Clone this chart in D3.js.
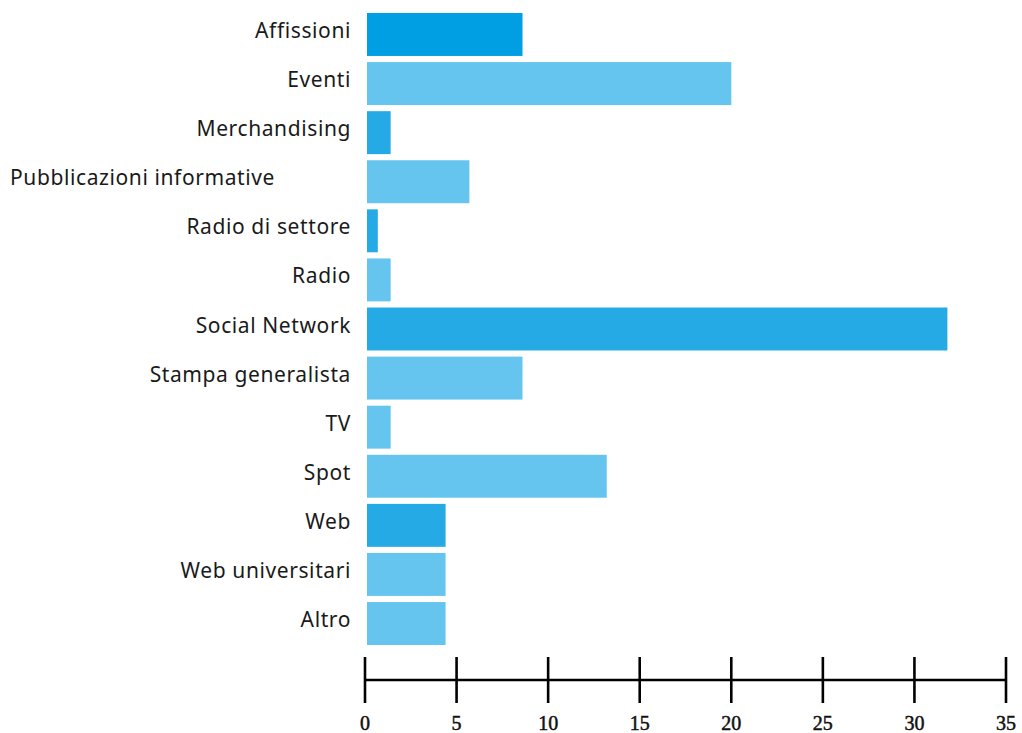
<!DOCTYPE html>
<html>
<head>
<meta charset="utf-8">
<script src="https://cdn.jsdelivr.net/npm/d3@7"></script>
<style>
  html, body { margin: 0; padding: 0; background: #ffffff; }
  svg { display: block; }
  .cat-label { font-family: "Noto Sans", "Open Sans", sans-serif; font-size: 21px; fill: #1a1a1a; letter-spacing: 0.6px; }
  .tick-label { font-family: "Liberation Serif", "DejaVu Serif", serif; font-size: 20px; fill: #111; stroke: #111; stroke-width: 0.5px; }
</style>
</head>
<body>
<svg id="chart" width="1022" height="733"></svg>
<script>
// Channels used for communication (percent of mentions)
const categories = [
  "Affissioni", "Eventi", "Merchandising", "Pubblicazioni informative",
  "Radio di settore", "Radio", "Social Network", "Stampa generalista",
  "TV", "Spot", "Web", "Web universitari", "Altro"
];
const values = [8.6, 20.0, 1.4, 5.7, 0.7, 1.4, 31.8, 8.6, 1.4, 13.2, 4.4, 4.4, 4.4];
// Shade group for each bar: 0 = deep blue, 1 = mid blue, 2 = light blue
const shades = [0, 2, 1, 2, 1, 2, 1, 2, 2, 2, 1, 2, 2];
const tickValues = [0, 5, 10, 15, 20, 25, 30, 35];

const palette = ["#009fe3", "#26aae6", "#66c5ef"];

const width = 1022, height = 733;
const margin = { left: 10, plotLeft: 365, right: 16, top: 13, barsBottom: 645, axisY: 680 };

const svg = d3.select("#chart");

const x = d3.scaleLinear()
  .domain([0, 35])
  .range([margin.plotLeft, width - margin.right]);

const y = d3.scaleBand()
  .domain(categories)
  .range([margin.top, margin.barsBottom])
  .paddingInner(0.125)
  .paddingOuter(0);

// Bars
svg.append("g")
  .selectAll("rect")
  .data(categories)
  .join("rect")
  .attr("x", x(0) + 2)
  .attr("y", d => y(d))
  .attr("width", (d, i) => x(values[i]) - x(0) - 2)
  .attr("height", y.bandwidth())
  .attr("fill", (d, i) => palette[shades[i]]);

// Category labels (long labels start from the left edge)
const labelEnd = margin.plotLeft - 14;
svg.append("g")
  .selectAll("text")
  .data(categories)
  .join("text")
  .attr("class", "cat-label")
  .attr("x", d => d.length > 20 ? margin.left : labelEnd)
  .attr("text-anchor", d => d.length > 20 ? "start" : "end")
  .attr("y", d => y(d) + y.bandwidth() / 2 + 3.5)
  .text(d => d);

// Bottom axis: baseline with tall ticks crossing it
const axis = svg.append("g").attr("transform", `translate(0,${margin.axisY})`);
axis.append("line")
  .attr("x1", x(0)).attr("x2", x(35))
  .attr("y1", 0).attr("y2", 0)
  .attr("stroke", "#000").attr("stroke-width", 2.6);
axis.selectAll("line.tick")
  .data(tickValues)
  .join("line")
  .attr("class", "tick")
  .attr("x1", d => x(d)).attr("x2", d => x(d))
  .attr("y1", -23).attr("y2", 23)
  .attr("stroke", "#000").attr("stroke-width", 2.6);
axis.selectAll("text")
  .data(tickValues)
  .join("text")
  .attr("class", "tick-label")
  .attr("x", d => x(d))
  .attr("y", 50)
  .attr("text-anchor", "middle")
  .text(d => d);
</script>
</body>
</html>
